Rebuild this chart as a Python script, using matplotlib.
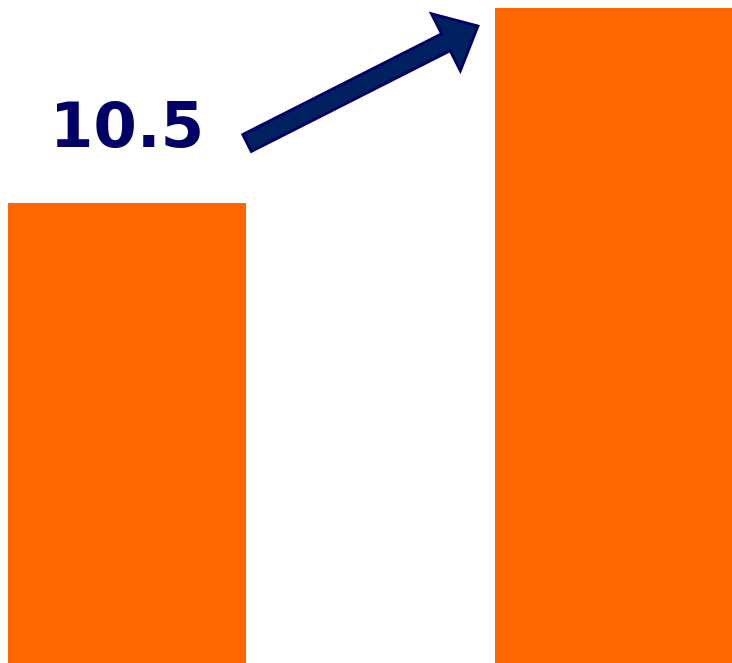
import matplotlib
matplotlib.use('Agg')

import matplotlib.pyplot as plt
from matplotlib.patches import FancyArrow
from matplotlib.transforms import IdentityTransform

# ------------------------------------------------------------
# data
# ------------------------------------------------------------
categories = ['before', 'after']
values = [24.8, 35.3]
change_label = '10.5'

W, H = 732, 663
fig = plt.figure(figsize=(W / 100, H / 100), dpi=100)
ax = fig.add_axes([0, 0, 1, 1])

ax.bar(range(len(categories)), values, width=0.489, color='#FF6600')
ax.set_xlim(-0.261, 1.2436)
ax.set_ylim(0, 35.73)
ax.axis('off')

# pixel coords, y measured from top of picture
px = IdentityTransform()
arrow = FancyArrow(247, H - 143, 231, 117, width=19, head_width=64,
                   head_length=36, length_includes_head=True,
                   facecolor='#002060', edgecolor='#000066', linewidth=2,
                   transform=px)
fig.patches.append(arrow)

fig.text(127.5, H - 147, change_label, transform=px, ha='center',
         va='baseline', fontsize=45, fontweight='bold', color='#000066',
         family='DejaVu Sans')

fig.savefig('out.png', dpi=100)
